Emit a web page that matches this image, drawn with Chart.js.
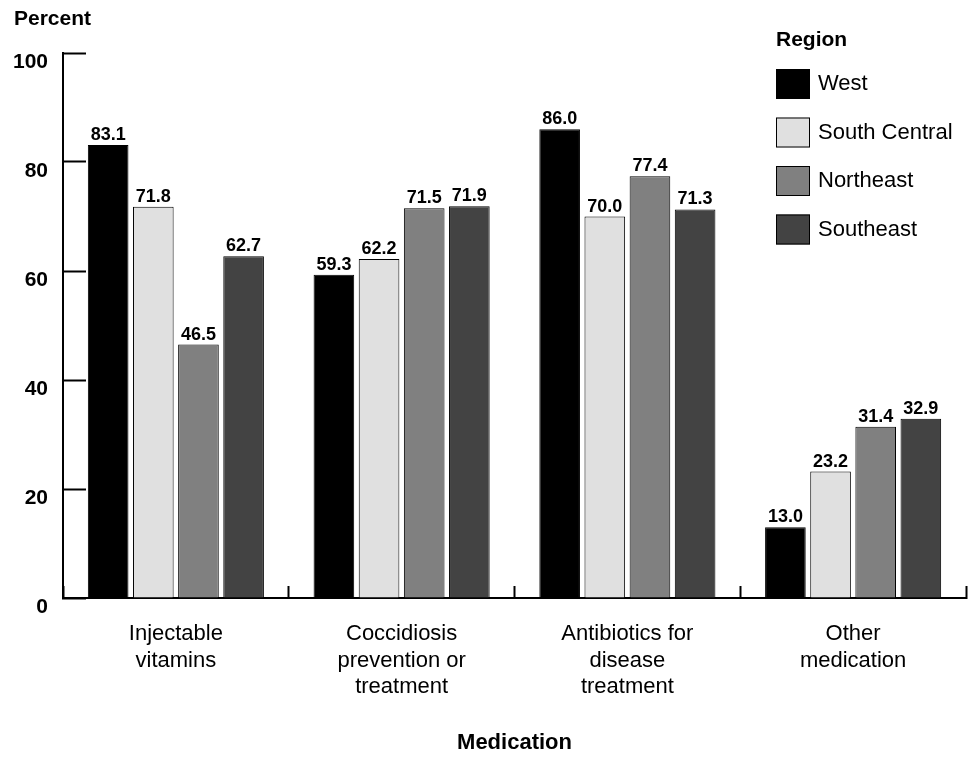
<!DOCTYPE html>
<html lang="en">

<head>
    <meta charset="UTF-8">
    <title>Medication by region</title>
    <script src="https://cdn.jsdelivr.net/npm/chart.js"></script>
    <style>
        body {
            margin: 0;
            background: #ffffff;
        }

        .chart-box {
            width: 974px;
            height: 757px;
            position: relative;
        }
    </style>
</head>

<body>

    <div class="chart-box">
        <canvas id="myChart"></canvas>
    </div>

    <script>
        // chart data
        const categories = [
            ['Injectable', 'vitamins'],
            ['Coccidiosis', 'prevention or', 'treatment'],
            ['Antibiotics for', 'disease', 'treatment'],
            ['Other', 'medication']
        ];
        const regions = ['West', 'South Central', 'Northeast', 'Southeast'];
        const west = [83.1, 59.3, 86.0, 13.0];
        const southCentral = [71.8, 62.2, 70.0, 23.2];
        const northeast = [46.5, 71.5, 77.4, 31.4];
        const southeast = [62.7, 71.9, 71.3, 32.9];
        const yTicks = [0, 20, 40, 60, 80, 100];

        const colors = ['#000000', '#e0e0e0', '#808080', '#434343'];
        const FONT = "'Liberation Sans', Arial, sans-serif";

        // value labels above each bar
        const valueLabels = {
            id: 'valueLabels',
            afterDatasetsDraw(chart) {
                const ctx = chart.ctx;
                ctx.save();
                ctx.fillStyle = '#000';
                ctx.font = 'bold 18px ' + FONT;
                ctx.textAlign = 'center';
                ctx.textBaseline = 'alphabetic';
                chart.data.datasets.forEach((ds, i) => {
                    chart.getDatasetMeta(i).data.forEach((bar, j) => {
                        ctx.fillText(ds.data[j].toFixed(1), bar.x, bar.y - 5);
                    });
                });
                ctx.restore();
            }
        };

        // "Percent" title and the Region legend
        const extras = {
            id: 'extras',
            afterDraw(chart) {
                const ctx = chart.ctx;
                ctx.save();
                ctx.fillStyle = '#000';
                ctx.textAlign = 'left';
                ctx.textBaseline = 'alphabetic';
                ctx.font = 'bold 21px ' + FONT;
                ctx.fillText('Percent', 14, 25);
                ctx.fillText('Region', 776, 46);

                ctx.font = '22px ' + FONT;
                ctx.textBaseline = 'middle';
                chart.data.datasets.forEach((ds, i) => {
                    const top = 69 + i * 48.5;
                    ctx.fillStyle = ds.backgroundColor;
                    ctx.fillRect(776, top, 34, 30);
                    ctx.strokeStyle = '#000';
                    ctx.lineWidth = 1;
                    ctx.strokeRect(776.5, top + 0.5, 33, 29);
                    ctx.fillStyle = '#000';
                    ctx.fillText(ds.label, 818, top + 15);
                });
                ctx.restore();
            }
        };

        const series = [west, southCentral, northeast, southeast];

        const ctx = document.getElementById('myChart').getContext('2d');
        new Chart(ctx, {
            type: 'bar',
            data: {
                labels: categories,
                datasets: series.map((vals, i) => ({
                    label: regions[i],
                    data: vals,
                    backgroundColor: colors[i],
                    borderColor: '#000000',
                    borderWidth: 1,
                    categoryPercentage: 0.8,
                    barPercentage: 0.9
                }))
            },
            options: {
                responsive: true,
                maintainAspectRatio: false,
                animation: false,
                layout: {
                    padding: { left: 0, top: 53, right: 8, bottom: 0 }
                },
                plugins: {
                    legend: { display: false },
                    tooltip: { enabled: false }
                },
                scales: {
                    x: {
                        afterFit: scale => { scale.height = 159; },
                        grid: {
                            offset: true,
                            drawOnChartArea: false,
                            drawTicks: true,
                            tickLength: -12,
                            tickWidth: 2,
                            tickColor: '#000'
                        },
                        border: { display: true, color: '#000', width: 2 },
                        ticks: {
                            color: '#000',
                            padding: 35,
                            maxRotation: 0,
                            autoSkip: false,
                            font: { family: FONT, size: 22, lineHeight: 1.2 }
                        },
                        title: {
                            display: true,
                            text: 'Medication',
                            color: '#000',
                            font: { family: FONT, size: 22, weight: 'bold' },
                            padding: { top: 0, bottom: 1 }
                        }
                    },
                    y: {
                        min: 0,
                        max: 100,
                        afterFit: scale => { scale.width = 63; },
                        afterBuildTicks: scale => {
                            scale.ticks = yTicks.map(v => ({ value: v }));
                        },
                        grid: {
                            drawOnChartArea: false,
                            drawTicks: true,
                            tickLength: -23,
                            tickWidth: 2,
                            tickColor: '#000'
                        },
                        border: { display: true, color: '#000', width: 2 },
                        ticks: {
                            color: '#000',
                            padding: 38,
                            labelOffset: 9,
                            font: { family: FONT, size: 21, weight: 'bold' }
                        }
                    }
                }
            },
            plugins: [valueLabels, extras]
        });
    </script>

</body>

</html>
